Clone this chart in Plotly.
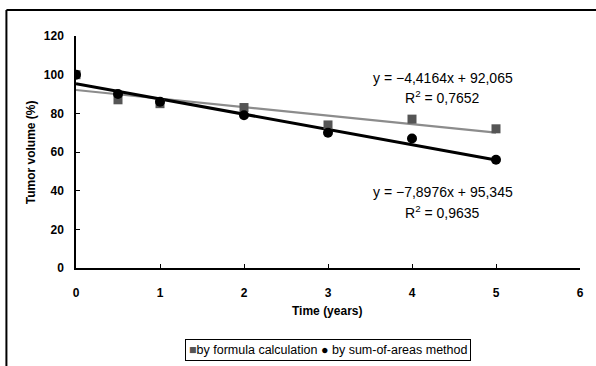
import plotly.graph_objects as go

# Measurements: years since baseline and tumour volume (% of baseline)
years = [0, 0.5, 1, 2, 3, 4, 5]
formula_volume = [100, 87, 85, 83, 74, 77, 72]
areas_volume = [100, 90, 86, 79, 70, 67, 56]

# Linear trendline coefficients (slope, intercept) and R²
formula_fit = (-4.4164, 92.065, 0.7652)
areas_fit = (-7.8976, 95.345, 0.9635)

series_names = ["by formula calculation", "by sum-of-areas method"]

x_ticks = [0, 1, 2, 3, 4, 5, 6]
y_ticks = [0, 20, 40, 60, 80, 100, 120]

W, H = 596, 366
L, R, T, B = 76, 13, 36, 98

GREY_MARK = "#555555"


def fit_line(coef):
    slope, intercept, _ = coef
    xs = [years[0], years[-1]]
    return xs, [slope * x + intercept for x in xs]


def eq_text(coef):
    slope, intercept, r2 = coef
    s = f"y = \u2212{abs(slope):.4f}x + {intercept:.3f}".replace(".", ",")
    r = f"R<sup>2</sup> = {r2:.4f}".replace(".", ",")
    return s, r


fig = go.Figure()

fx, fy = fit_line(formula_fit)
fig.add_trace(go.Scatter(x=fx, y=fy, mode="lines",
                         line=dict(color="#8c8c8c", width=2.2),
                         showlegend=False, hoverinfo="skip"))
ax, ay = fit_line(areas_fit)
fig.add_trace(go.Scatter(x=ax, y=ay, mode="lines",
                         line=dict(color="#000000", width=3),
                         showlegend=False, hoverinfo="skip"))

fig.add_trace(go.Scatter(x=years, y=formula_volume, mode="markers",
                         name=series_names[0], showlegend=False,
                         marker=dict(symbol="square", size=9, color=GREY_MARK)))
fig.add_trace(go.Scatter(x=years, y=areas_volume, mode="markers",
                         name=series_names[1], showlegend=False,
                         marker=dict(symbol="circle", size=10, color="#000000")))

tick_font = dict(family="Liberation Sans Narrow, Arial Narrow, Liberation Sans, Arial",
                 size=12, color="#000000", weight="bold")

fig.update_xaxes(range=[0, 6], tickvals=x_ticks, ticktext=[str(v) for v in x_ticks],
                 showgrid=False, zeroline=False, showline=True,
                 linecolor="#000000", linewidth=1.5,
                 ticks="inside", ticklen=4, tickcolor="#000000",
                 tickfont=tick_font, ticklabelstandoff=13)
fig.update_yaxes(range=[0, 120], tickvals=y_ticks, ticktext=[str(v) for v in y_ticks],
                 showgrid=False, zeroline=False, showline=True,
                 linecolor="#000000", linewidth=1.5,
                 ticks="inside", ticklen=4, tickcolor="#000000",
                 tickfont=tick_font, ticklabelstandoff=8)

pw, ph = W - L - R, H - T - B


def px(xp):
    return (xp - L) / pw


def py(yp):
    return (H - B - yp) / ph


text_font = dict(family="Liberation Sans, Arial", size=14, color="#000000")
bold_font = dict(family="Liberation Sans Narrow, Arial Narrow, Liberation Sans, Arial",
                 size=12, color="#000000")

annotations = []
for coef, y_eq, y_r2 in [(formula_fit, 78, 97), (areas_fit, 192, 212)]:
    s, r = eq_text(coef)
    annotations.append(dict(x=px(445), y=py(y_eq), xref="paper", yref="paper",
                            text=s, showarrow=False, font=text_font,
                            xanchor="center", yanchor="middle"))
    annotations.append(dict(x=px(445), y=py(y_r2), xref="paper", yref="paper",
                            text=r, showarrow=False, font=text_font,
                            xanchor="center", yanchor="middle"))

annotations.append(dict(x=px(328), y=py(311), xref="paper", yref="paper",
                        text="<b>Time (years)</b>", showarrow=False, font=bold_font,
                        xanchor="center", yanchor="middle"))
annotations.append(dict(x=px(31), y=py(152), xref="paper", yref="paper",
                        text="<b>Tumor volume (%)</b>", showarrow=False, font=bold_font,
                        textangle=-90, xanchor="center", yanchor="middle"))

# Compact boxed key below the axis
key_text = (f"<span style='color:{GREY_MARK}'>\u25a0</span>{series_names[0]} "
            f"\u25cf {series_names[1]}")
annotations.append(dict(x=px(329), y=py(350), xref="paper", yref="paper",
                        text=key_text, showarrow=False,
                        font=dict(family="Liberation Sans, Arial", size=12.5, color="#000000"),
                        bordercolor="#000000", borderwidth=1, borderpad=3,
                        bgcolor="#ffffff", xanchor="center", yanchor="middle"))

# Outer chart frame (top and left edges)
shapes = [
    dict(type="line", xref="paper", yref="paper", x0=px(6), x1=px(600),
         y0=py(10), y1=py(10), line=dict(color="#000000", width=2)),
    dict(type="line", xref="paper", yref="paper", x0=px(6), x1=px(6),
         y0=py(10), y1=py(370), line=dict(color="#000000", width=2)),
]

fig.update_layout(
    width=W, height=H,
    margin=dict(l=L, r=R, t=T, b=B),
    paper_bgcolor="#ffffff", plot_bgcolor="#ffffff",
    showlegend=False,
    annotations=annotations,
    shapes=shapes,
)

fig.write_html("out.html")
